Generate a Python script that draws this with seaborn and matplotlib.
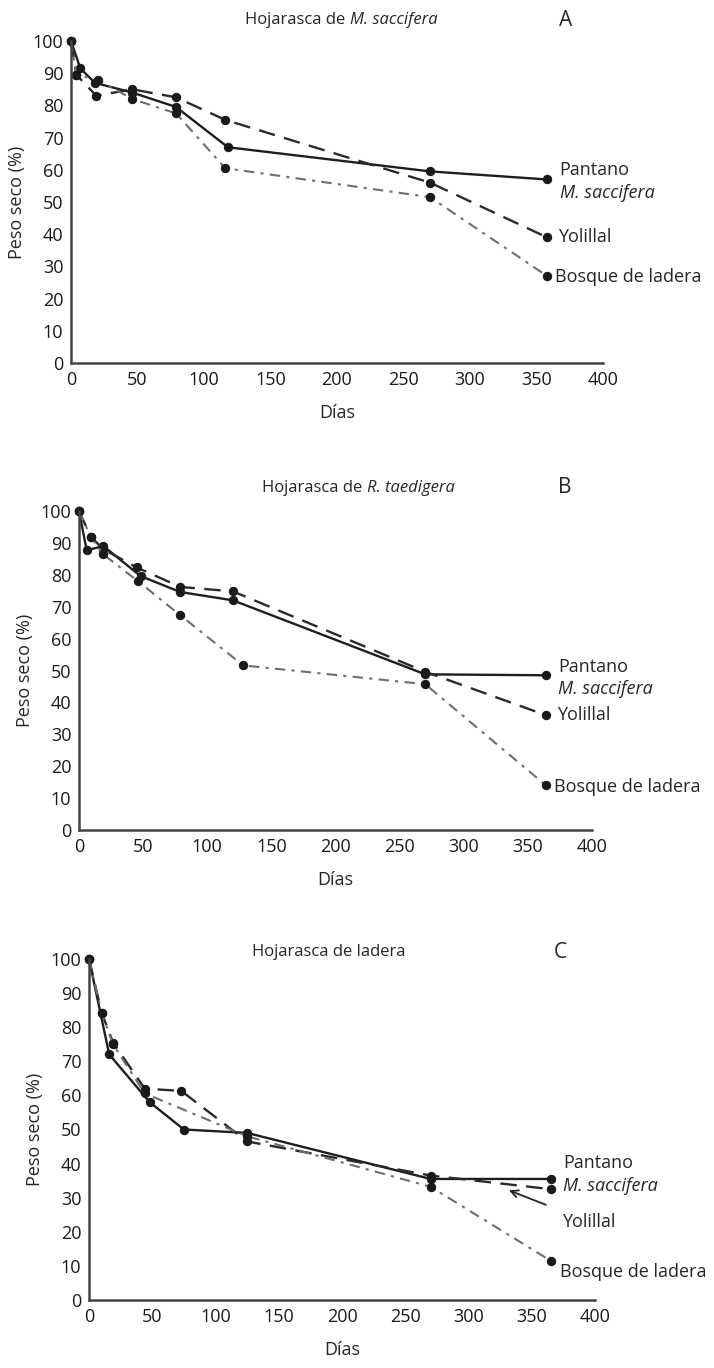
import matplotlib
matplotlib.use("Agg")
import matplotlib.pyplot as plt
import seaborn as sns
import numpy as np

sns.set_style("white")
plt.rcParams['font.family'] = ['Open Sans', 'DejaVu Sans']

# ---- data (days, % dry weight remaining) ----
# Panel A: Hojarasca de M. saccifera
a_pantano_dias = [0, 7, 18, 46, 79, 118, 270, 358]
a_pantano_peso = [100, 91.5, 87, 84, 79.5, 67, 59.5, 57]
a_yolillal_dias = [0, 4, 19, 46, 79, 116, 270, 358]
a_yolillal_peso = [100, 89.5, 83, 85, 82.5, 75.5, 56, 39]
a_bosque_dias = [0, 4, 20, 46, 79, 116, 270, 358]
a_bosque_peso = [100, 89.5, 88, 82, 77.5, 60.5, 51.5, 27]

# Panel B: Hojarasca de R. taedigera
b_pantano_dias = [0, 6, 19, 48, 79, 120, 270, 364]
b_pantano_peso = [100, 87.7, 89, 79.6, 74.6, 72, 48.8, 48.5]
b_yolillal_dias = [0, 9, 19, 45, 79, 120, 270, 364]
b_yolillal_peso = [100, 92, 88, 82.3, 76.2, 74.8, 49.6, 36]
b_bosque_dias = [0, 9, 19, 46, 79, 128, 270, 364]
b_bosque_peso = [100, 92, 86.4, 78, 67.3, 51.6, 45.7, 14]

# Panel C: Hojarasca de ladera
c_pantano_dias = [0, 16, 48, 75, 125, 270, 365]
c_pantano_peso = [100, 72, 58, 50, 49, 35.5, 35.5]
c_yolillal_dias = [0, 10, 19, 44, 73, 125, 270, 365]
c_yolillal_peso = [100, 84.3, 75.5, 62, 61.3, 46.5, 36.5, 32.5]
c_bosque_dias = [0, 10, 19, 44, 125, 270, 365]
c_bosque_peso = [100, 84.3, 75, 60.6, 48, 33.2, 11.5]

x_ticks = [0, 50, 100, 150, 200, 250, 300, 350, 400]
y_ticks = [0, 10, 20, 30, 40, 50, 60, 70, 80, 90, 100]

W, H = 714, 1368
fig = plt.figure(figsize=(W / 100, H / 100), dpi=100)


def px_axes(left, right, top, bottom):
    return fig.add_axes([left / W, 1 - bottom / H, (right - left) / W, (bottom - top) / H])


styles = {
    'pantano': dict(color='#1e1e1e', linewidth=1.7, linestyle='-'),
    'yolillal': dict(color='#2a2a2a', linewidth=1.7, linestyle=(0, (7, 4))),
    'bosque': dict(color='#6e6e6e', linewidth=1.5, linestyle=(0, (5, 3, 1.5, 3))),
}

FS = 13

panels = [
    dict(box=(71, 603, 41, 363), title=('Hojarasca de ', 'M. saccifera'), letter='A',
         title_xy=(245, 20), letter_xy=(566, 20),
         series=[('pantano', a_pantano_dias, a_pantano_peso),
                 ('yolillal', a_yolillal_dias, a_yolillal_peso),
                 ('bosque', a_bosque_dias, a_bosque_peso)],
         pant_off=(9, 14)),
    dict(box=(79, 592, 511, 830), title=('Hojarasca de ', 'R. taedigera'), letter='B',
         title_xy=(262, 488), letter_xy=(565, 488),
         series=[('pantano', b_pantano_dias, b_pantano_peso),
                 ('yolillal', b_yolillal_dias, b_yolillal_peso),
                 ('bosque', b_bosque_dias, b_bosque_peso)],
         pant_off=(8, 14)),
    dict(box=(89, 595, 959, 1300), title=('Hojarasca de ladera', ''), letter='C',
         title_xy=(252, 952), letter_xy=(560, 952),
         series=[('pantano', c_pantano_dias, c_pantano_peso),
                 ('yolillal', c_yolillal_dias, c_yolillal_peso),
                 ('bosque', c_bosque_dias, c_bosque_peso)],
         pant_off=(16, 7)),
]

for i, p in enumerate(panels):
    ax = px_axes(*p['box'])
    for name, dias, peso in p['series']:
        sns.lineplot(x=dias, y=peso, ax=ax, marker='o', markersize=6,
                     markerfacecolor='#1a1a1a', markeredgecolor='#1a1a1a',
                     clip_on=False, **styles[name])

    ax.set_xlim(0, 400)
    ax.set_ylim(0, 100)
    ax.set_xticks(x_ticks)
    ax.set_yticks(y_ticks)
    ax.tick_params(axis='both', labelsize=FS, colors='#1a1a1a', length=5, width=1.1,
                   direction='inout', pad=3)
    for s in ['top', 'right']:
        ax.spines[s].set_visible(False)
    for s in ['left', 'bottom']:
        ax.spines[s].set_color('#444444')
        ax.spines[s].set_linewidth(1.8)
    ax.set_xlabel('Días', fontsize=FS, labelpad=11)
    ax.set_ylabel('Peso seco (%)', fontsize=FS, labelpad=5)

    # title: plain part + italic species name
    t1 = fig.text(p['title_xy'][0] / W, 1 - p['title_xy'][1] / H, p['title'][0],
                  fontsize=12, ha='left', va='center')
    if p['title'][1]:
        fig.text(0, 0, '').set_visible(False)
        ax.annotate(p['title'][1], xy=(1, 0.5), xycoords=t1, fontsize=12,
                    style='italic', ha='left', va='center', annotation_clip=False)
    fig.text(p['letter_xy'][0] / W, 1 - p['letter_xy'][1] / H, p['letter'], fontsize=15,
             ha='center', va='center')

    # end labels
    px_, py_ = p['series'][0][1][-1], p['series'][0][2][-1]
    up, down = p['pant_off']
    ax.annotate('Pantano', (px_, py_), xytext=(9, up * 0.72), textcoords='offset points',
                fontsize=FS, va='center', ha='left')
    ax.annotate('M. saccifera', (px_, py_), xytext=(9, -down * 0.72), textcoords='offset points',
                fontsize=FS, va='center', ha='left', style='italic')

    yx, yy = p['series'][1][1][-1], p['series'][1][2][-1]
    bx, by = p['series'][2][1][-1], p['series'][2][2][-1]
    if p['letter'] == 'C':
        ax.annotate('Yolillal', (331, 32.3), xytext=(374, 23), textcoords='data',
                    fontsize=FS, va='center', ha='left',
                    arrowprops=dict(arrowstyle='->', color='#222', lw=1.3,
                                    shrinkA=10, shrinkB=1))
        ax.annotate('Bosque de ladera', (bx, by), xytext=(7, -8), textcoords='offset points',
                    fontsize=FS, va='center', ha='left')
    else:
        ax.annotate('Yolillal', (yx, yy), xytext=(8, 0), textcoords='offset points',
                    fontsize=FS, va='center', ha='left')
        ax.annotate('Bosque de ladera', (bx, by), xytext=(6, -1), textcoords='offset points',
                    fontsize=FS, va='center', ha='left')

fig.savefig('out.png', dpi=100)
